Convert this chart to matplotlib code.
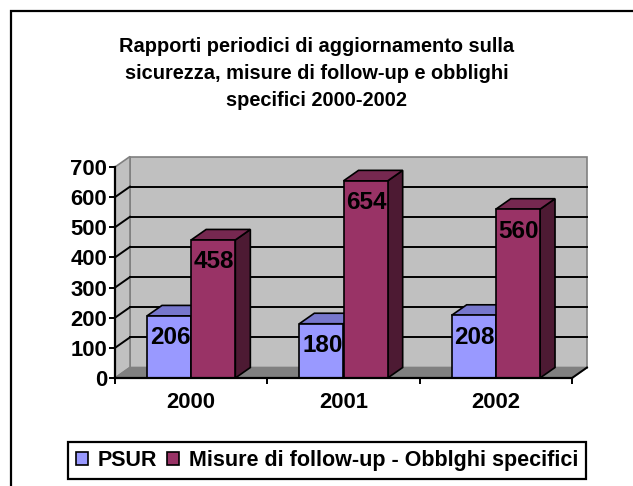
import matplotlib
matplotlib.use('Agg')
import matplotlib.pyplot as plt
from matplotlib.patches import Polygon, Rectangle

plt.rcParams['font.family'] = 'Liberation Sans'
plt.rcParams['font.weight'] = 'bold'

# Dati
years = ['2000', '2001', '2002']
psur = [206, 180, 208]
misure = [458, 654, 560]
series_names = ['PSUR', 'Misure di follow-up - Obblghi specifici']
title = ('Rapporti periodici di aggiornamento sulla\n'
         'sicurezza, misure di follow-up e obblighi\n'
         'specifici 2000-2002')

W, H = 633, 486
fig = plt.figure(figsize=(W / 100, H / 100), dpi=100)

# area del grafico (faccia frontale), in pixel
x_left, x_right, y_zero, y_top = 115, 572, 378, 167
ax = fig.add_axes([x_left / W, 1 - y_zero / H, (x_right - x_left) / W, (y_zero - y_top) / H])
ymax = 700
ax.set_xlim(0, len(years))
ax.set_ylim(0, ymax)
for s in ax.spines.values():
    s.set_visible(False)
ax.patch.set_visible(False)

# profondità 3D convertita in unità dati
ddx = 15 / ((x_right - x_left) / len(years))
ddy = 10.5 / ((y_zero - y_top) / ymax)

wall = '#C0C0C0'
edge_gray = '#808080'

# parete di fondo, parete laterale, pavimento
ax.add_patch(Rectangle((ddx, ddy), len(years), ymax, fc=wall, ec=edge_gray, lw=1.2, clip_on=False, zorder=1))
ax.add_patch(Polygon([(0, 0), (0, ymax), (ddx, ymax + ddy), (ddx, ddy)], closed=True,
                     fc=wall, ec=edge_gray, lw=1.2, clip_on=False, zorder=1))
ax.add_patch(Polygon([(0, 0), (len(years), 0), (len(years) + ddx, ddy), (ddx, ddy)], closed=True,
                     fc=edge_gray, ec=edge_gray, lw=1.2, clip_on=False, zorder=1.5))
ax.plot([len(years), len(years) + ddx], [0, ddy], color='black', lw=1.4, clip_on=False, zorder=1.6)

# griglia
for v in range(100, ymax, 100):
    ax.plot([ddx, len(years) + ddx], [v + ddy, v + ddy], color='black', lw=1.4, clip_on=False, zorder=2)
    ax.plot([0, ddx], [v, v + ddy], color='black', lw=1.4, clip_on=False, zorder=2)

# barre 3D
bar_w = 0.29
styles = [
    dict(front='#9999FF', top='#7777CC', side='#5C5C99', off=0.21),
    dict(front='#993366', top='#762850', side='#4D1A33', off=0.50),
]
for vals, st, name in zip([psur, misure], styles, series_names):
    xs = [i + st['off'] for i in range(len(years))]
    for x0, h in zip(xs, vals):
        ax.add_patch(Polygon([(x0 + bar_w, 0), (x0 + bar_w, h), (x0 + bar_w + ddx, h + ddy), (x0 + bar_w + ddx, ddy)],
                             closed=True, fc=st['side'], ec='black', lw=1.2, clip_on=False, zorder=3))
        ax.add_patch(Polygon([(x0, h), (x0 + bar_w, h), (x0 + bar_w + ddx, h + ddy), (x0 + ddx, h + ddy)],
                             closed=True, fc=st['top'], ec='black', lw=1.2, clip_on=False, zorder=3))
    ax.bar(xs, vals, width=bar_w, align='edge', color=st['front'], edgecolor='black',
           linewidth=1.2, zorder=4, clip_on=False, label=name)
    for x0, h in zip(xs, vals):
        ax.annotate(str(h), (x0 + bar_w / 2, h), xytext=(1, -22), textcoords='offset pixels',
                    ha='center', va='center', fontsize=17.5, fontweight='bold', zorder=6)

# assi
ax.plot([0, 0], [0, ymax], color='black', lw=1.6, clip_on=False, zorder=5)
ax.plot([0, len(years)], [0, 0], color='black', lw=1.6, clip_on=False, zorder=5)
ax.set_yticks(range(0, ymax + 1, 100))
ax.tick_params(axis='y', length=4.3, width=1.4, pad=1.5, labelsize=15.8)
ax.set_xticks(range(len(years) + 1))
ax.set_xticklabels([])
ax.set_xticks([i + 0.5 for i in range(len(years))], minor=True)
ax.set_xticklabels(years, minor=True)
ax.tick_params(axis='x', which='major', length=4, width=1.4)
ax.tick_params(axis='x', which='minor', length=0, pad=10, labelsize=15.8)

# titolo
fig.text(0.5, 1 - 37 / H, title, ha='center', va='top', fontsize=14.4, fontweight='bold', linespacing=1.55)

# legenda
leg = fig.legend(loc='center', bbox_to_anchor=(327 / W, 1 - 460.5 / H), ncol=2, fontsize=15.5,
                 handlelength=0.55, handleheight=0.55, handletextpad=0.45, columnspacing=0.5,
                 borderpad=0.35, fancybox=False, edgecolor='black', framealpha=1)
leg.get_frame().set_linewidth(1.6)
for p in leg.get_patches():
    p.set_edgecolor('black')
    p.set_linewidth(1.2)

# cornice esterna
fig.patches.append(Rectangle((11 / W, -0.1), 1.2, 1.1 - 11 / H, transform=fig.transFigure,
                             fill=False, ec='black', lw=1.6))

fig.savefig('out.png', dpi=100)
